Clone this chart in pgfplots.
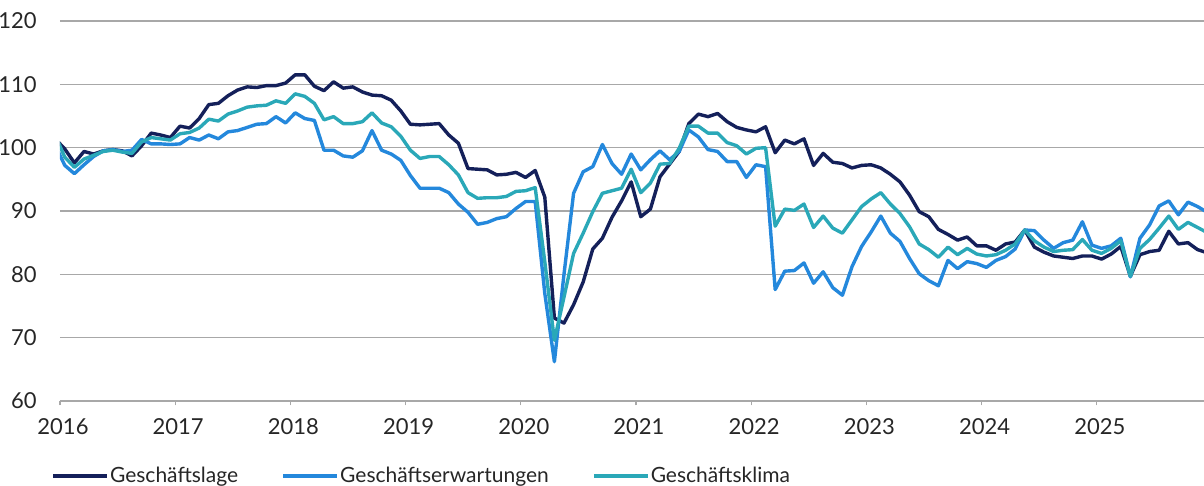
\documentclass[border=0pt]{standalone}
\usepackage{pgfplots}
\usepackage{pgfplotstable}
\usepackage{fontspec}
\setmainfont{Lato}
\pgfplotsset{compat=1.18}

\definecolor{lage}{HTML}{14205A}
\definecolor{erw}{HTML}{2488DC}
\definecolor{klima}{HTML}{2AA8B8}
\definecolor{gridgray}{HTML}{A8A8A8}

% monthly values, first row = Dec 2015, then Jan 2016 ... Dec 2025
\pgfplotstableread{
lage  erw   klima
101.4 100.4 102.0
99.8  97.2  98.5
97.6  95.9  96.9
99.4  97.3  98.2
99.0  98.6  98.8
99.5  99.5  99.4
99.7  99.7  99.6
99.5  99.4  99.3
98.7  99.6  99.1
100.3 101.3 100.9
102.3 100.6 101.6
102.0 100.6 101.4
101.6 100.5 101.2
103.4 100.6 102.2
103.1 101.6 102.4
104.6 101.2 103.1
106.8 102.0 104.5
107.0 101.4 104.2
108.2 102.5 105.3
109.1 102.7 105.8
109.6 103.2 106.4
109.5 103.7 106.6
109.8 103.8 106.7
109.8 104.9 107.4
110.2 103.9 107.0
111.5 105.5 108.5
111.5 104.6 108.1
109.7 104.3 107.0
109.0 99.6  104.4
110.4 99.6  104.9
109.4 98.7  103.8
109.6 98.5  103.8
108.8 99.5  104.1
108.3 102.7 105.5
108.2 99.6  103.9
107.5 99.0  103.3
105.8 98.0  101.8
103.7 95.6  99.6
103.6 93.6  98.3
103.7 93.6  98.6
103.8 93.6  98.6
102.0 92.9  97.3
100.7 91.1  95.7
96.7  89.8  92.9
96.6  87.9  92.0
96.5  88.2  92.1
95.7  88.8  92.1
95.8  89.1  92.3
96.1  90.4  93.1
95.3  91.5  93.2
96.4  91.5  93.7
92.2  77.0  82.0
73.1  66.2  69.6
72.3  80.0  76.4
75.2  92.8  83.3
78.8  96.2  86.5
84.0  97.0  89.9
85.7  100.5 92.8
89.0  97.5  93.2
91.6  95.8  93.6
94.6  99.0  96.6
89.1  96.5  92.9
90.3  98.1  94.4
95.4  99.5  97.4
97.4  98.1  97.5
99.4  99.4  99.9
103.8 102.8 103.4
105.3 101.7 103.4
104.9 99.7  102.3
105.4 99.4  102.3
104.1 97.8  100.8
103.2 97.8  100.3
102.8 95.3  99.0
102.5 97.3  99.9
103.3 97.0  100.0
99.2  77.6  87.6
101.2 80.5  90.3
100.6 80.6  90.1
101.4 81.8  91.1
97.2  78.6  87.4
99.1  80.4  89.2
97.7  77.9  87.3
97.5  76.7  86.5
96.8  81.2  88.6
97.2  84.4  90.7
97.3  86.7  91.9
96.8  89.2  92.9
95.8  86.5  91.1
94.6  85.2  89.6
92.5  82.5  87.5
89.9  80.1  84.8
89.1  79.0  83.9
87.1  78.2  82.7
86.3  82.2  84.3
85.4  80.9  83.1
85.9  82.0  84.1
84.5  81.7  83.2
84.5  81.1  82.9
83.8  82.2  83.1
84.8  82.8  83.8
85.1  84.0  84.8
87.0  87.0  87.0
84.3  86.9  85.3
83.5  85.4  84.3
82.9  84.1  83.6
82.7  85.0  83.8
82.5  85.4  83.9
82.9  88.3  85.5
82.9  84.6  83.8
82.4  84.1  83.3
83.2  84.5  84.1
84.4  85.7  85.3
79.7  79.6  79.7
83.1  85.7  84.1
83.6  87.8  85.5
83.8  90.8  87.3
86.8  91.6  89.2
84.8  89.4  87.1
85.0  91.4  88.2
83.9  90.7  87.4
83.4  89.8  86.6
}\ifodata

\begin{document}
\begin{tikzpicture}
\begin{axis}[
    name=ax, at={(0,0)}, anchor=south west,
    scale only axis, width=572bp, height=190bp,
    xmin=0, xmax=119.17, ymin=60, ymax=120,
    xtick={0,12,...,108},
    xticklabels={2016,2017,2018,2019,2020,2021,2022,2023,2024,2025},
    ytick={60,70,...,120},
    axis line style={draw=none},
    ymajorgrids,
    major grid style={gridgray, line width=0.6bp},
    xtick pos=bottom, ytick pos=left,
    tick align=outside,
    major tick length=2.2bp,
    xtick style={gridgray, line width=0.6bp},
    ytick style={draw=none},
    tick label style={font=\fontsize{11bp}{13bp}\selectfont, text=black!85},
    /pgf/number format/assume math mode=true,
    yticklabel style={xshift=-6bp},
    xticklabel style={yshift=-3bp, xshift=1.5bp},
    legend columns=3,
    legend style={at={(-0.008,-0.197)}, anchor=west, draw=none, fill=none,
        inner sep=0pt, font=\fontsize{10.5bp}{12.5bp}\selectfont,
        nodes={inner xsep=0.6bp, text=black!85},
        /tikz/every even column/.append style={column sep=21bp}},
    legend image code/.code={\draw[#1, line width=1.8bp] (0bp,0bp) -- (27bp,0bp);},
    every axis plot/.append style={line width=1.7bp, line join=round},
]
\addplot[lage, no markers] table[x expr=\coordindex-0.5, y=lage] {\ifodata};
\addplot[erw, no markers] table[x expr=\coordindex-0.5, y=erw] {\ifodata};
\addplot[klima, no markers] table[x expr=\coordindex-0.5, y=klima] {\ifodata};
\legend{Geschäftslage, Geschäftserwartungen, Geschäftsklima}
\end{axis}
\pgfresetboundingbox
\path[use as bounding box] (-30bp,-42.5bp) rectangle (572bp,200.5bp);
\end{tikzpicture}
\end{document}
